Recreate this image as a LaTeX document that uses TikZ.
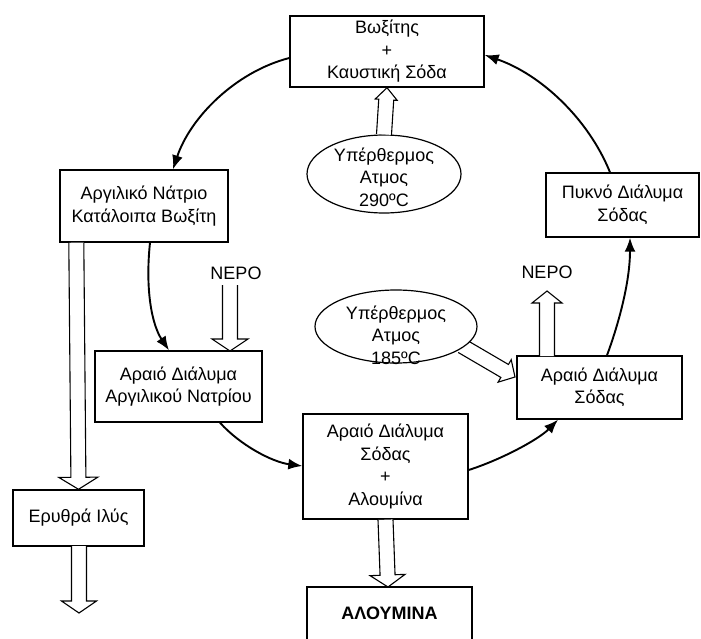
\documentclass[tikz,border=0pt]{standalone}
\usepackage{fontspec}
\setmainfont{Liberation Sans}
\usetikzlibrary{calc,arrows.meta,shapes.geometric}
\tikzset{
  box/.style={draw, line width=1.4pt, fill=white, align=center, inner sep=0pt,
    font=\fontsize{18}{22.5}\selectfont},
  txt/.style={align=center, inner sep=0pt, font=\fontsize{18}{22.5}\selectfont},
  oval/.style={draw, ellipse, line width=1.2pt, fill=white, inner sep=0pt},
  flow/.style={line width=1.9pt, -{Latex[length=14pt,width=11pt]}},
  hollow/.style={draw, line width=1.1pt, fill=white, line join=miter},
}
\newcommand\harr[3][17]{%
  \coordinate (hb) at ($(#3)!12pt!(#2)$);
  \draw[hollow] ($(#2)!7.5pt!90:(#3)$) -- ($(hb)!7.5pt!-90:(#2)$) -- ($(hb)!#1pt!-90:(#2)$)
    -- (#3) -- ($(hb)!#1pt!90:(#2)$) -- ($(hb)!7.5pt!90:(#2)$) -- ($(#2)!7.5pt!-90:(#3)$);
}
\begin{document}
\begin{tikzpicture}[x=1pt,y=-1pt]
\clip (0,0) rectangle (701,639);
\fill[white] (0,0) rectangle (701,639);

% boxes
\node[box, minimum width=194pt, minimum height=71pt] (top) at (387,51.5) {Βωξίτης\\+\\Καυστική Σόδα};
\node[box, minimum width=168pt, minimum height=72pt] (left) at (144,206) {Αργιλικό Νάτριο\\Κατάλοιπα Βωξίτη};
\node[box, minimum width=167pt, minimum height=71pt] (araioA) at (178.5,386.5) {Αραιό Διάλυμα\\Αργιλικού Νατρίου};
\node[box, minimum width=165pt, minimum height=105pt] (mid) at (385.5,466.5) {Αραιό Διάλυμα\\Σόδας\\+\\Αλουμίνα};
\node[box, minimum width=165pt, minimum height=63pt] (right) at (599.5,387.5) {Αραιό Διάλυμα\\Σόδας};
\node[box, minimum width=153pt, minimum height=64pt] (pykno) at (622.5,205) {Πυκνό Διάλυμα\\Σόδας};
\node[box, minimum width=131pt, minimum height=56pt] (erythra) at (78.5,518) {Ερυθρά Ιλύς};
\draw[line width=1.4pt] (307,660) -- (307,587) coordinate (alNW) -- (472,587) -- (472,660);
\node[txt, font=\fontsize{18}{22.5}\selectfont\bfseries] (alumina) at (389.5,613) {ΑΛΟΥΜΙΝΑ};
\coordinate (alN) at (388,587);

% hollow arrows (drawn before the ovals so that the ovals cover their tails)
\coordinate (s1) at (462,346);
\coordinate (s2) at (515,377);
\harr[13]{s1}{s2}

% ellipses
\node[oval, minimum width=154pt, minimum height=78pt] (e290) at (384,174) {};
\node[txt] (t290) at (384,177) {Υπέρθερμος\\Ατμος\\290ºC};
\node[oval, minimum width=162pt, minimum height=73pt] (e185) at (396,326.5) {};
\node[txt] (t185) at (396,335) {Υπέρθερμος\\Ατμος\\185ºC};

% water labels
\node[txt] (nepoL) at (236,273) {ΝΕΡΟ};
\node[txt] (nepoR) at (547,272) {ΝΕΡΟ};

\coordinate (w1a) at (230,285);
\coordinate (w1b) at (230,351);
\harr[18]{w1a}{w1b}
\harr[11]{e290.north}{top.south}
\harr[19.5]{[xshift=17pt]left.south west}{erythra.north}
\coordinate (rb) at (79,546);
\coordinate (rc) at (79,613);
\harr[17.5]{rb}{rc}
\harr[17.5]{mid.south}{alN}
\coordinate (w2a) at (547,356);
\coordinate (w2b) at (547,291);
\harr[15]{w2a}{w2b}

% cycle arrows
\draw[flow] (top.west |- 0,58) .. controls (235,72) and (190,118) .. (left.north -| 173,0);
\draw[flow] (left.south -| 150,0) .. controls (145,290) and (152,325) .. (araioA.north -| 169,0);
\draw[flow] (araioA.south -| 220,0) .. controls (240,445) and (272,462) .. (mid.west |- 0,466);
\draw[flow] (mid.east |- 0,470) .. controls (500,460) and (538,440) .. (right.south -| 558,0);
\draw[flow] (right.north -| 607,0) .. controls (620,320) and (630,280) .. (pykno.south -| 630,0);
\draw[flow] (pykno.north -| 610,0) .. controls (588,118) and (540,74) .. (top.east |- 0,55);
\end{tikzpicture}
\end{document}
